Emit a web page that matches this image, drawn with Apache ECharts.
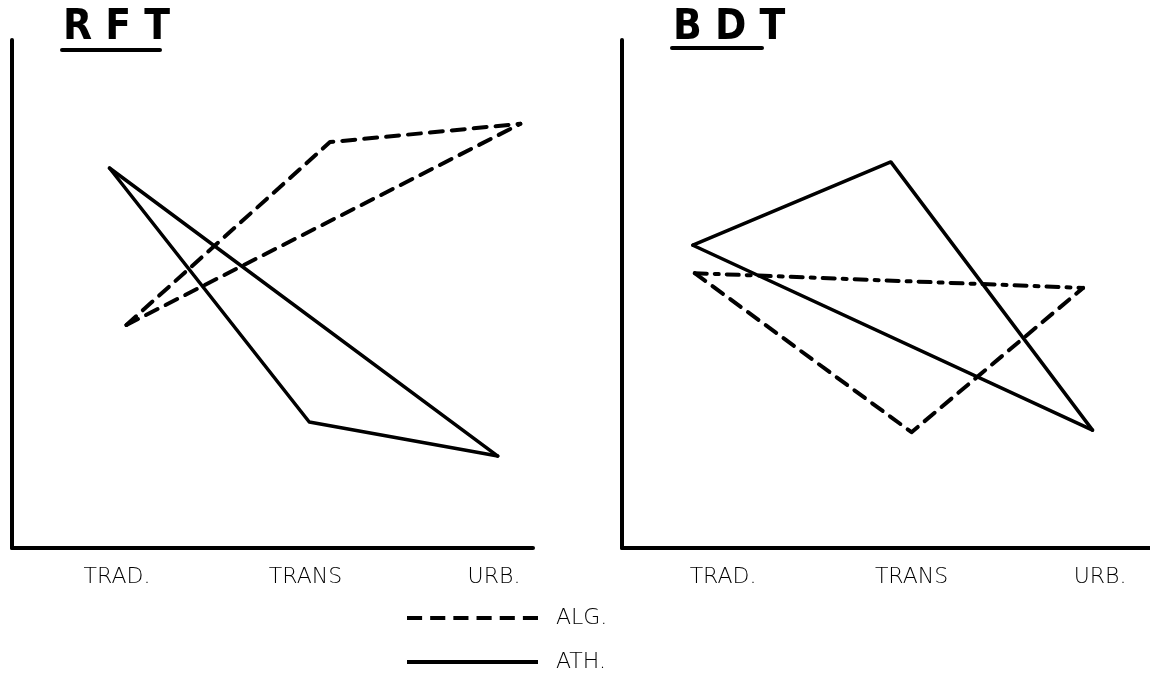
<!DOCTYPE html>
<html><head><meta charset="utf-8">
<script src="https://cdn.jsdelivr.net/npm/echarts@6/dist/echarts.min.js"></script>
<style>html,body{margin:0;padding:0;background:#fff}#c{width:1150px;height:674px}</style>
</head><body><div id="c"></div>
<script>
const categories = ['TRAD.', 'TRANS', 'URB.'];
const panelTitles = ['R F T', 'B D T'];
const seriesNames = ['ALG.', 'ATH.'];
// x = position along the axis in category units (0 = TRAD., 1 = TRANS, 2 = URB.), y = value
const rftAlgX = [0.05, 1.13, 2.14];
const rftAlgY = [4.39, 7.99, 8.35];
const rftAthX = [-0.04, 1.02, 2.02];
const rftAthY = [7.48, 2.48, 1.81];
const bdtAlgX = [-0.15, 1.00, 1.91];
const bdtAlgY = [5.41, 2.28, 5.12];
const bdtAthX = [-0.16, 0.89, 1.96];
const bdtAthY = [5.96, 7.60, 2.32];

const zip = (xs, ys) => xs.map((x, i) => [x, ys[i]]);
const ink = '#000';
const dash = [13, 9];
const dashDot = [12, 8, 4, 8];

function group(name, xs, ys, gi, dashed, directDash) {
  const pts = zip(xs, ys);
  const base = {
    type: 'line', name: name, xAxisIndex: gi, yAxisIndex: gi,
    symbol: 'none', showSymbol: false, silent: true, animation: false
  };
  return [
    Object.assign({}, base, {
      data: pts,
      lineStyle: { color: ink, width: dashed ? 4 : 3.5, type: dashed ? dash : 'solid', cap: 'round', join: 'round' },
      itemStyle: { color: ink }
    }),
    Object.assign({}, base, {
      data: [pts[0], pts[pts.length - 1]],
      lineStyle: { color: ink, width: dashed ? 4 : 3.5, type: dashed ? (directDash || dash) : 'solid', cap: 'round' },
      itemStyle: { color: ink }
    })
  ];
}

const labelFmt = v => {
  const r = Math.round(v);
  return (Math.abs(v - r) < 1e-6 && r >= 0 && r < categories.length) ? categories[r] : '';
};

function xAxisFor(gi, min, max) {
  return {
    gridIndex: gi, type: 'value', min: min, max: max,
    axisLine: { show: true, onZero: false, lineStyle: { color: ink, width: 4, cap: 'round' } },
    axisTick: { show: false }, splitLine: { show: false },
    axisLabel: { formatter: labelFmt, margin: 18, color: ink, fontSize: 22, fontWeight: 200,
      fontFamily: 'DejaVu Sans', showMinLabel: false, showMaxLabel: false }
  };
}
function yAxisFor(gi) {
  return {
    gridIndex: gi, type: 'value', min: 0, max: 10,
    axisLine: { show: true, onZero: false, lineStyle: { color: ink, width: 4, cap: 'round' } },
    axisTick: { show: false }, splitLine: { show: false }, axisLabel: { show: false }
  };
}

const titleStyle = { color: ink, fontSize: 42, fontWeight: 'bold', fontFamily: 'DejaVu Sans Condensed' };

// legend glyphs: a dashed stroke and a solid stroke
const dashIcon = 'path://M0,0h15v4h-15z M23,0h15v4h-15z M46,0h15v4h-15z M69,0h15v4h-15z M92,0h15v4h-15z M115,0h15v4h-15z';
const solidIcon = 'path://M0,0h130v4h-130z';
const legendText = { color: ink, fontSize: 22, fontWeight: 200, fontFamily: 'DejaVu Sans', padding: [0, 0, 0, 13], lineHeight: 26 };

function legendFor(name, icon, top) {
  return {
    left: 407, top: top, padding: 0,
    itemWidth: 131, itemHeight: 5,
    data: [{ name: name, icon: icon }],
    itemStyle: { color: ink },
    textStyle: legendText
  };
}

const option = {
  backgroundColor: '#fff',
  animation: false,
  title: [
    { text: panelTitles[0], left: 58, top: 2, textStyle: titleStyle },
    { text: panelTitles[1], left: 668, top: 2, textStyle: titleStyle }
  ],
  grid: [
    { left: 12, top: 40, width: 521, height: 508 },
    { left: 622, top: 40, width: 528, height: 508 }
  ],
  xAxis: [xAxisFor(0, -0.557, 2.207), xAxisFor(1, -0.536, 2.265)],
  yAxis: [yAxisFor(0), yAxisFor(1)],
  legend: [
    legendFor(seriesNames[0], dashIcon, 605),
    legendFor(seriesNames[1], solidIcon, 649)
  ],
  graphic: [
    { type: 'line', shape: { x1: 62, y1: 50, x2: 160, y2: 50 }, style: { stroke: ink, lineWidth: 4, lineCap: 'round' } },
    { type: 'line', shape: { x1: 672, y1: 48, x2: 762, y2: 48 }, style: { stroke: ink, lineWidth: 4, lineCap: 'round' } }
  ],
  series: [].concat(
    group(seriesNames[0], rftAlgX, rftAlgY, 0, true),
    group(seriesNames[1], rftAthX, rftAthY, 0, false),
    group(seriesNames[0], bdtAlgX, bdtAlgY, 1, true, dashDot),
    group(seriesNames[1], bdtAthX, bdtAthY, 1, false)
  )
};
const chart = echarts.init(document.getElementById('c'), null, { renderer: 'canvas' });
chart.setOption(option);
</script>
</body></html>
